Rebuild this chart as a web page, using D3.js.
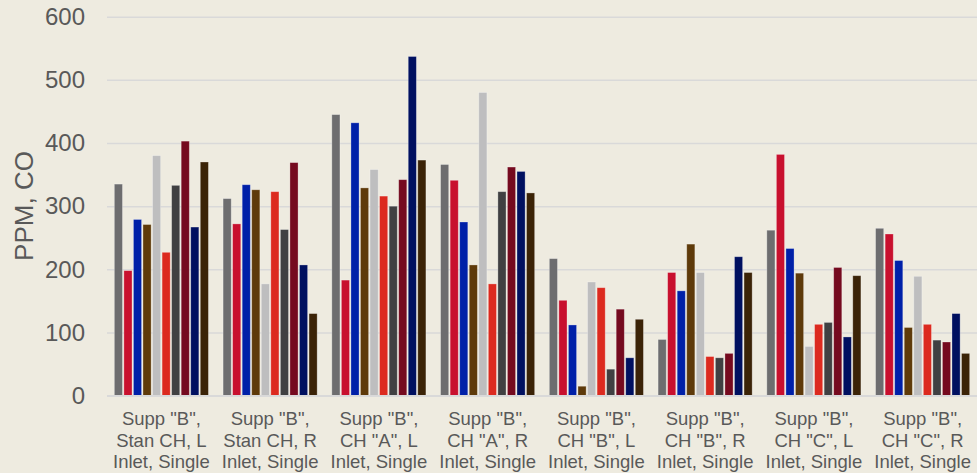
<!DOCTYPE html>
<html>
<head>
<meta charset="utf-8">
<script src="https://cdn.jsdelivr.net/npm/d3@7"></script>
<style>
  html, body { margin: 0; padding: 0; background: #eeebe0; }
  svg { display: block; font-family: "Liberation Sans", Arial, sans-serif; }
  .y.axis text { fill: #595959; font-size: 24px; }
  .x-label { fill: #595959; font-size: 18.5px; }
  .axis-title { fill: #595959; font-size: 26px; }
</style>
</head>
<body>
<div class="chart-wrapper"></div>
<script>
const w = 977, h = 473;

// x categories (3 lines each)
const groups = [
  ['Supp "B",', 'Stan CH, L', 'Inlet, Single'],
  ['Supp "B",', 'Stan CH, R', 'Inlet, Single'],
  ['Supp "B",', 'CH "A", L', 'Inlet, Single'],
  ['Supp "B",', 'CH "A", R', 'Inlet, Single'],
  ['Supp "B",', 'CH "B", L', 'Inlet, Single'],
  ['Supp "B",', 'CH "B", R', 'Inlet, Single'],
  ['Supp "B",', 'CH "C", L', 'Inlet, Single'],
  ['Supp "B",', 'CH "C", R', 'Inlet, Single']
];

const series = ['s1', 's2', 's3', 's4', 's5', 's6', 's7', 's8', 's9', 's10'];
const colors = ['#6d6d6f', '#c8102e', '#0020a8', '#5e3a0a', '#bebebf', '#dc2a1f', '#404042', '#750a1f', '#001060', '#3b2307'];

// one value per group for each series
const s1  = [335, 312, 445, 366, 217,  89, 262, 265];
const s2  = [198, 272, 183, 341, 151, 195, 382, 256];
const s3  = [279, 334, 432, 275, 112, 166, 233, 214];
const s4  = [271, 326, 329, 207,  15, 240, 194, 108];
const s5  = [380, 177, 358, 480, 180, 195,  78, 189];
const s6  = [227, 323, 316, 177, 171,  62, 113, 113];
const s7  = [333, 263, 300, 323,  42,  60, 116,  88];
const s8  = [403, 369, 342, 362, 137,  67, 203,  85];
const s9  = [267, 207, 537, 355,  60, 220,  93, 130];
const s10 = [370, 130, 373, 321, 121, 195, 190,  67];

const yTicks = [0, 100, 200, 300, 400, 500, 600];

const values = [s1, s2, s3, s4, s5, s6, s7, s8, s9, s10];
const data = groups.map((g, i) => ({
  key: g.join(' '),
  lines: g,
  vals: series.map((s, j) => ({ s: s, v: values[j][i], c: colors[j] }))
}));

const svg = d3.select('.chart-wrapper').append('svg')
  .attr('width', w)
  .attr('height', h);

svg.append('rect').attr('width', w).attr('height', h).attr('fill', '#eeebe0');

const x0 = d3.scaleBand()
  .domain(data.map(d => d.key))
  .range([107, 977])
  .paddingInner(0.135)
  .paddingOuter(0.0675);

const x1 = d3.scaleBand()
  .domain(series)
  .range([0, x0.bandwidth()])
  .paddingInner(0.15);

const yScale = d3.scaleLinear()
  .domain([0, 600])
  .range([395.7, 16.7]);

// gridlines + labels
const yaxis = svg.append('g')
  .attr('class', 'y axis')
  .attr('transform', 'translate(107,0)')
  .call(d3.axisLeft(yScale).tickValues(yTicks).tickSizeInner(-(977 - 107)).tickSizeOuter(0));

yaxis.select('.domain').remove();
yaxis.selectAll('line').attr('stroke', '#d9d9d9').attr('stroke-width', 1.5);
yaxis.selectAll('text').attr('x', -22);

// bars
const grp = svg.selectAll('.group')
  .data(data)
  .enter().append('g')
  .attr('class', 'group')
  .attr('transform', d => 'translate(' + x0(d.key) + ',0)');

grp.selectAll('rect')
  .data(d => d.vals)
  .enter().append('rect')
  .attr('x', d => x1(d.s))
  .attr('y', d => yScale(d.v))
  .attr('width', x1.bandwidth())
  .attr('height', d => yScale(0) - yScale(d.v))
  .attr('fill', d => d.c)
  .attr('stroke', 'rgba(255,255,255,0.35)')
  .attr('stroke-width', 0.8);

// baseline on top of bars
svg.append('line')
  .attr('x1', 107).attr('x2', 977)
  .attr('y1', yScale(0)).attr('y2', yScale(0))
  .attr('stroke', '#d9d9d9').attr('stroke-width', 1.5);

// x labels
const xl = svg.selectAll('.x-label')
  .data(data)
  .enter().append('text')
  .attr('class', 'x-label')
  .attr('text-anchor', 'middle')
  .attr('transform', d => 'translate(' + (x0(d.key) + x0.bandwidth() / 2) + ',0)');

xl.selectAll('tspan')
  .data(d => d.lines)
  .enter().append('tspan')
  .attr('x', 0)
  .attr('y', (d, i) => 425 + i * 21.7)
  .text(d => d);

// y title
svg.append('text')
  .attr('class', 'axis-title')
  .attr('text-anchor', 'middle')
  .attr('transform', 'translate(33,206) rotate(-90)')
  .text('PPM, CO');
</script>
</body>
</html>
